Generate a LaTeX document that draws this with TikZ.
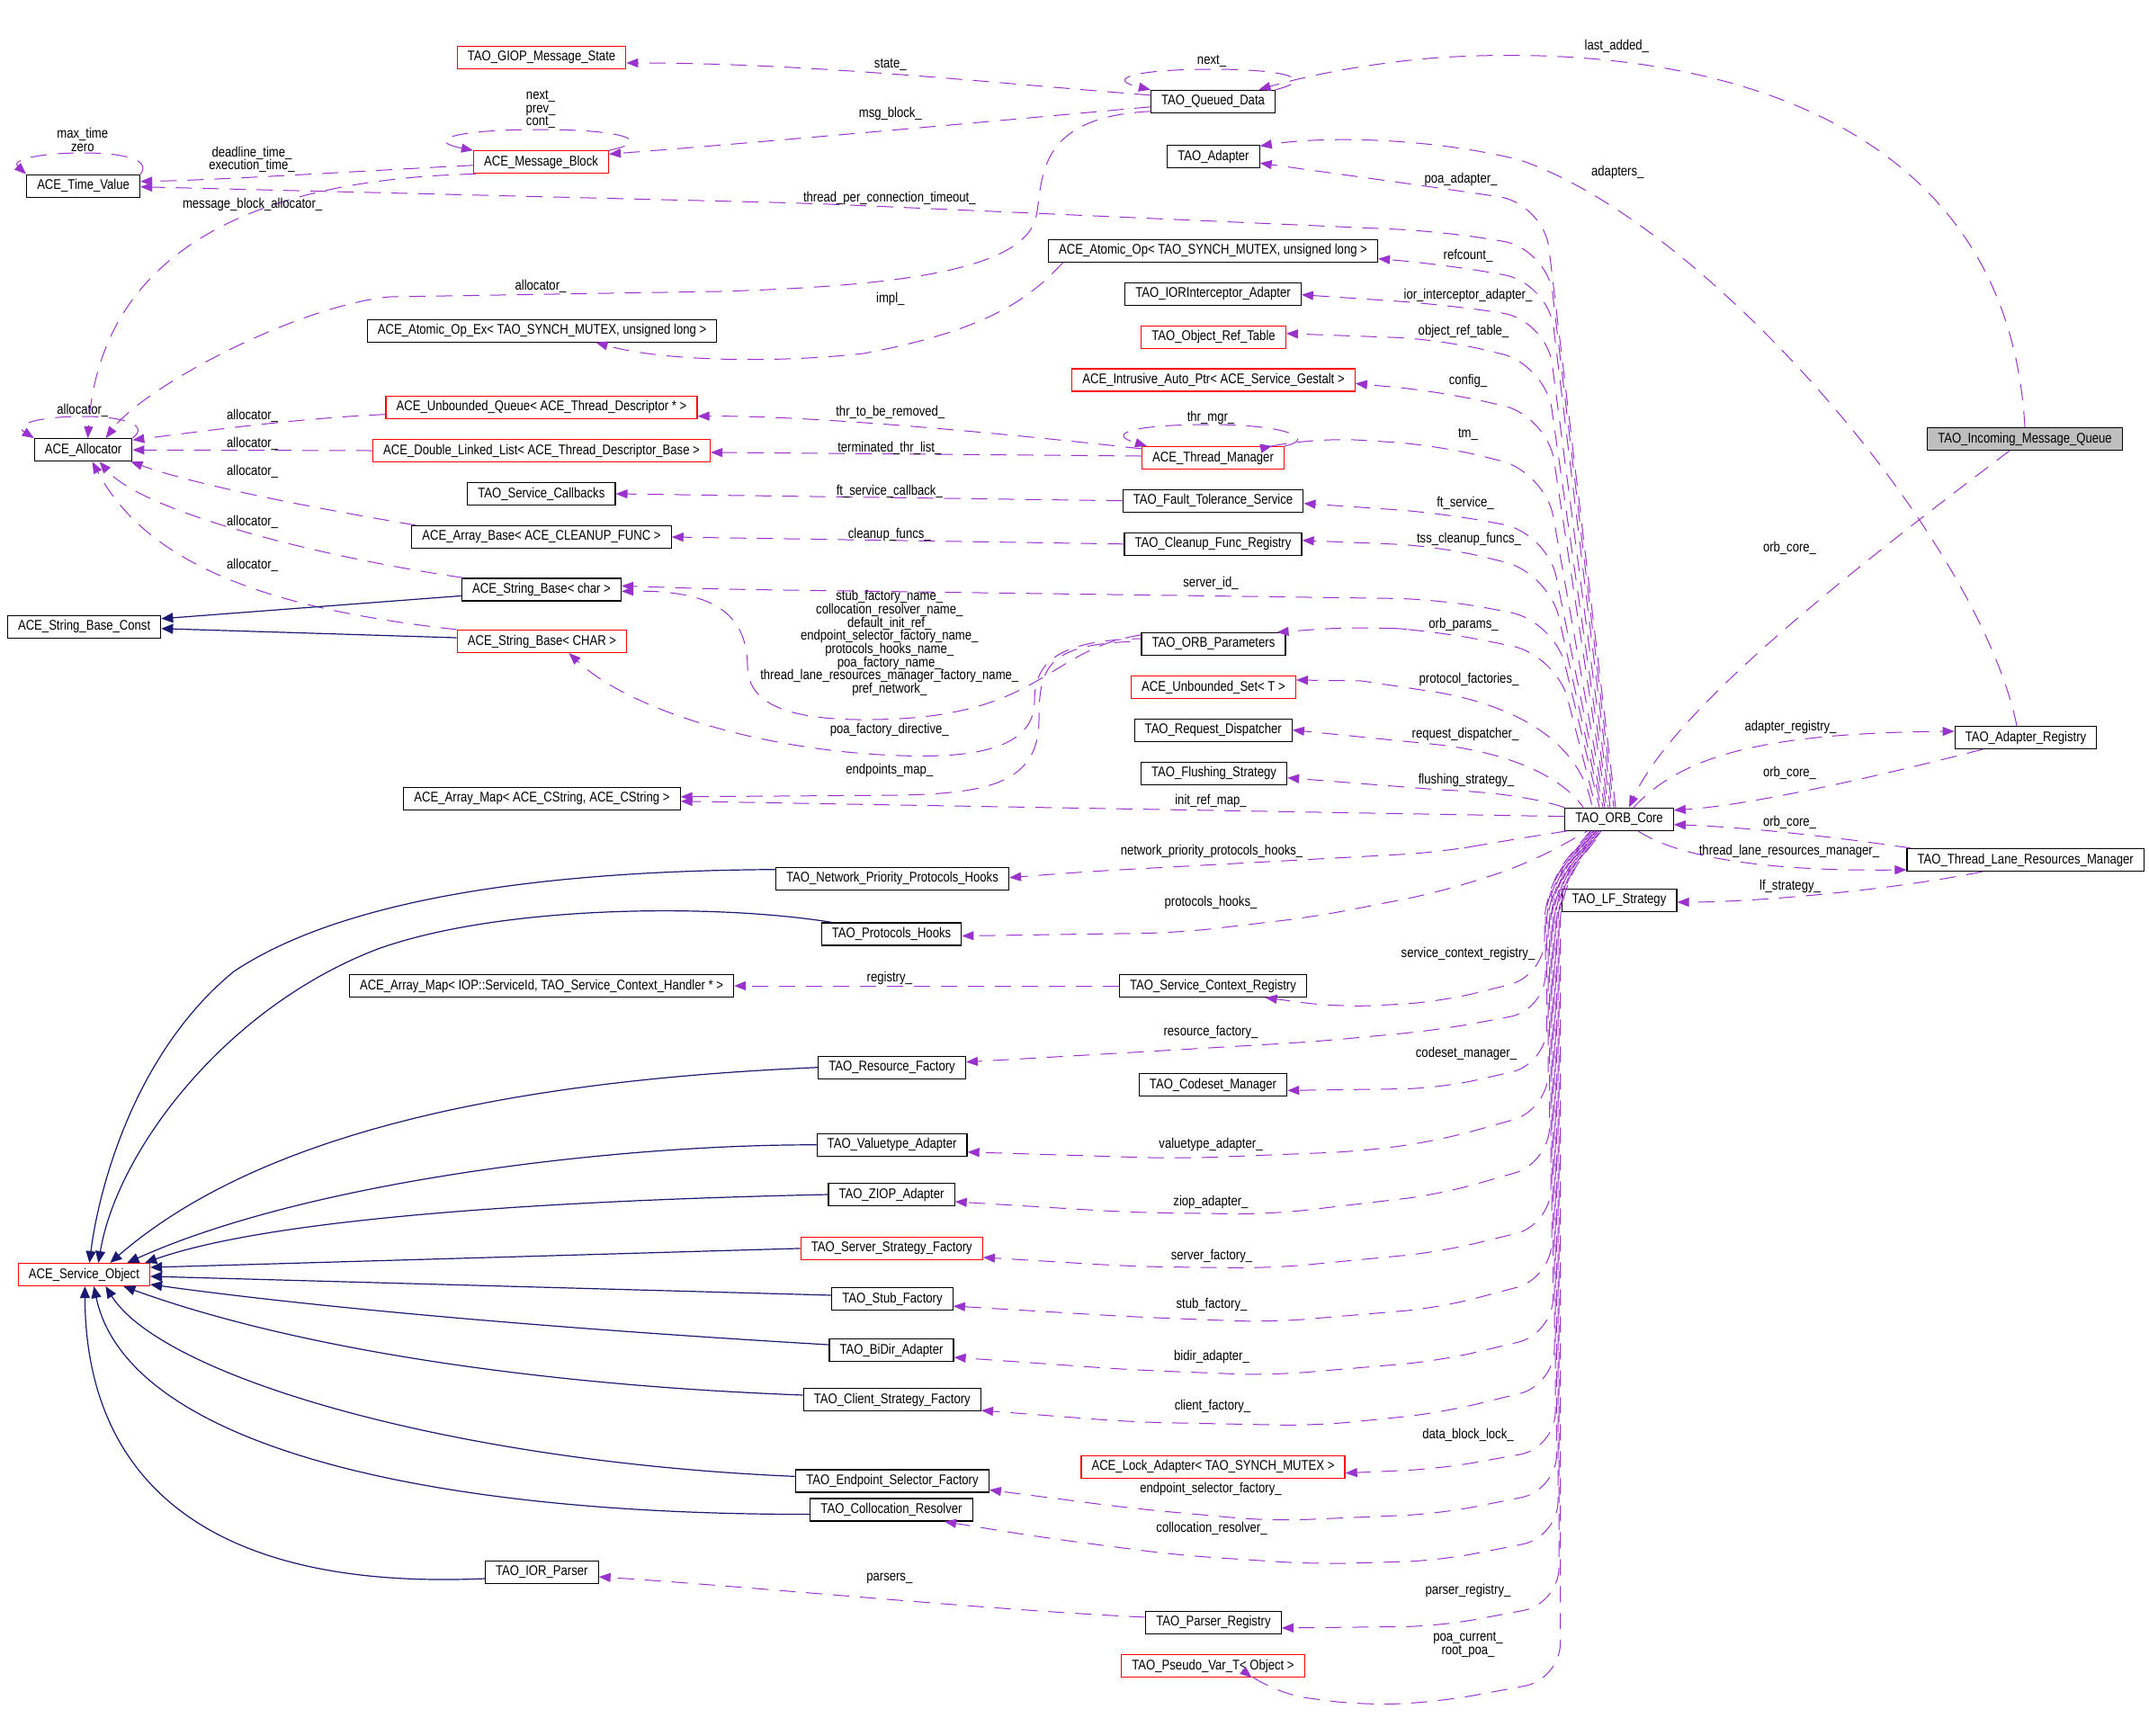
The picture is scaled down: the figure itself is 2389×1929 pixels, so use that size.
\documentclass[tikz,border=0pt]{standalone}
\usepackage{fontspec}
\setmainfont[FakeStretch=0.84]{Liberation Sans}
\usetikzlibrary{arrows.meta}

\definecolor{edgepurple}{HTML}{9A32CD}
\definecolor{inhblue}{HTML}{191970}
\definecolor{boxred}{HTML}{FF0000}
\definecolor{focusgray}{HTML}{BFBFBF}

\tikzset{
  cls/.style={draw=black, line width=0.6pt, fill=white, minimum height=12.5pt, inner xsep=5.8pt, inner ysep=1pt, font=\fontsize{7.8}{9}\selectfont},
  clsred/.style={cls, draw=boxred},
  clsmain/.style={cls, fill=focusgray},
  dep/.style={draw=edgepurple, line width=0.5pt, dash pattern=on 9pt off 6pt, -{Triangle[length=6.5pt, width=5pt]}},
  inh/.style={draw=inhblue, line width=0.6pt, -{Triangle[length=6.5pt, width=5.5pt]}},
  lbl/.style={font=\fontsize{7.8}{7.35}\selectfont, align=center, inner sep=0pt}
}

\begin{document}
\begin{tikzpicture}[x=0.5pt, y=-0.5pt]
	\path[fill=white, use as bounding box] (0,0) rectangle (2389,1929);
	% Classes:
	\node[clsred] (giop) at (602,64) {TAO\_GIOP\_Message\_State};
	\node[cls] (qdata) at (1348.5,112.8) {TAO\_Queued\_Data};
	\node[cls] (adapter) at (1349,174.3) {TAO\_Adapter};
	\node[cls] (timeval) at (92.6,206.7) {ACE\_Time\_Value};
	\node[clsred] (msgblock) at (601.5,180.3) {ACE\_Message\_Block};
	\node[cls] (atomicex) at (602.5,367.7) {ACE\_Atomic\_Op\_Ex< TAO\_SYNCH\_MUTEX, unsigned long >};
	\node[cls] (atomicop) at (1348.5,278.6) {ACE\_Atomic\_Op< TAO\_SYNCH\_MUTEX, unsigned long >};
	\node[cls] (iorint) at (1348.5,326.7) {TAO\_IORInterceptor\_Adapter};
	\node[clsred] (objref) at (1349,374.8) {TAO\_Object\_Ref\_Table};
	\node[clsred] (intrusive) at (1349,422.4) {ACE\_Intrusive\_Auto\_Ptr< ACE\_Service\_Gestalt >};
	\node[clsmain] (incoming) at (2251,488) {TAO\_Incoming\_Message\_Queue};
	\node[clsred] (uqueue) at (602,452.7) {ACE\_Unbounded\_Queue< ACE\_Thread\_Descriptor * >};
	\node[cls] (alloc) at (92.6,500.2) {ACE\_Allocator};
	\node[clsred] (dllist) at (602,501) {ACE\_Double\_Linked\_List< ACE\_Thread\_Descriptor\_Base >};
	\node[clsred] (thrmgr) at (1348.5,509) {ACE\_Thread\_Manager};
	\node[cls] (svccb) at (601.8,549) {TAO\_Service\_Callbacks};
	\node[cls] (ftsvc) at (1348.5,556.7) {TAO\_Fault\_Tolerance\_Service};
	\node[cls] (arraybase) at (602,597) {ACE\_Array\_Base< ACE\_CLEANUP\_FUNC >};
	\node[cls] (cleanup) at (1348.5,604.8) {TAO\_Cleanup\_Func\_Registry};
	\node[cls] (strchar) at (602,655.4) {ACE\_String\_Base< char >};
	\node[cls] (strconst) at (93.6,696.8) {ACE\_String\_Base\_Const};
	\node[clsred] (strCHAR) at (602.5,713) {ACE\_String\_Base< CHAR >};
	\node[cls] (orbparams) at (1349,716) {TAO\_ORB\_Parameters};
	\node[clsred] (uset) at (1349,764) {ACE\_Unbounded\_Set< T >};
	\node[cls] (reqdisp) at (1348.7,811.6) {TAO\_Request\_Dispatcher};
	\node[cls] (adreg) at (2252,820) {TAO\_Adapter\_Registry};
	\node[cls] (flush) at (1349.5,859.7) {TAO\_Flushing\_Strategy};
	\node[cls] (amapcs) at (602.5,887.8) {ACE\_Array\_Map< ACE\_CString, ACE\_CString >};
	\node[cls] (orbcore) at (1800,910.7) {TAO\_ORB\_Core};
	\node[cls] (tlrm) at (2251.7,956) {TAO\_Thread\_Lane\_Resources\_Manager};
	\node[cls] (npph) at (992,976.7) {TAO\_Network\_Priority\_Protocols\_Hooks};
	\node[cls] (lfstrat) at (1800,1001) {TAO\_LF\_Strategy};
	\node[cls] (phooks) at (991,1038.5) {TAO\_Protocols\_Hooks};
	\node[cls] (amapiop) at (602,1096) {ACE\_Array\_Map< IOP::ServiceId, TAO\_Service\_Context\_Handler * >};
	\node[cls] (scr) at (1348.5,1096) {TAO\_Service\_Context\_Registry};
	\node[cls] (resfac) at (991.6,1186.7) {TAO\_Resource\_Factory};
	\node[cls] (codeset) at (1348.5,1206.3) {TAO\_Codeset\_Manager};
	\node[cls] (valadapt) at (991.6,1272.8) {TAO\_Valuetype\_Adapter};
	\node[cls] (ziop) at (991,1328) {TAO\_ZIOP\_Adapter};
	\node[clsred] (ssf) at (991.3,1387.9) {TAO\_Server\_Strategy\_Factory};
	\node[clsred] (svcobj) at (93.4,1417) {ACE\_Service\_Object};
	\node[cls] (stubfac) at (992,1444) {TAO\_Stub\_Factory};
	\node[cls] (bidir) at (991,1501) {TAO\_BiDir\_Adapter};
	\node[cls] (csf) at (991.8,1556) {TAO\_Client\_Strategy\_Factory};
	\node[clsred] (lockad) at (1348.5,1630.7) {ACE\_Lock\_Adapter< TAO\_SYNCH\_MUTEX >};
	\node[cls] (esf) at (992,1646.4) {TAO\_Endpoint\_Selector\_Factory};
	\node[cls] (colres) at (991,1678.5) {TAO\_Collocation\_Resolver};
	\node[cls] (iorparser) at (602.3,1748) {TAO\_IOR\_Parser};
	\node[cls] (parsreg) at (1349,1803.9) {TAO\_Parser\_Registry};
	\node[clsred] (pseudovar) at (1348.5,1852) {TAO\_Pseudo\_Var\_T< Object >};

	% Usage edges, left part:
	\draw[dep] ([shift={(0,-7)}]qdata.west) .. controls (1100,92) and (900,70) .. ([shift={(0,6)}]giop.east);
	\draw[dep] (qdata.north east) .. controls (1465,88) and (1430,77) .. (1348,77) .. controls (1260,77) and (1228,88) .. (qdata.north west);
	\draw[dep] ([shift={(0,6)}]qdata.west) .. controls (1100,135) and (850,158) .. ([shift={(0,-9)}]msgblock.east);
	\draw[dep] ([shift={(0,11)}]qdata.west) .. controls (1150,130) and (1160,200) .. (1152,240) .. controls (1140,300) and (1000,318) .. (800,324) -- (433,330) .. controls (330,340) and (160,430) .. ([shift={(25,0)}]alloc.north);
	\draw[dep] (msgblock.north east) .. controls (730,156) and (690,144) .. (601,144) .. controls (505,144) and (470,156) .. (msgblock.north west);
	\draw[dep] ([shift={(0,3.5)}]msgblock.west) .. controls (400,190) and (250,200) .. ([shift={(0,-5)}]timeval.east);
	\draw[dep] ([shift={(3,0)}]msgblock.south west) .. controls (250,200) and (110,300) .. ([shift={(5,0)}]alloc.north);
	\draw[dep] (timeval.north east) .. controls (168,178) and (140,170) .. (92,170) .. controls (42,170) and (12,178) .. (timeval.north west);
	\draw[dep] (alloc.north east) .. controls (166,473) and (140,463) .. (92,463) .. controls (42,463) and (14,472) .. (alloc.north west);
	\draw[dep] ([shift={(17,0)}]atomicop.south west) .. controls (1150,325) and (1110,365) .. (960,393) .. controls (850,405) and (730,400) .. ([shift={(60,0)}]atomicex.south);
	\draw[dep] ([shift={(0,3)}]thrmgr.north west) .. controls (1100,480) and (900,462) .. ([shift={(0,10)}]uqueue.east);
	\draw[dep] (thrmgr.north east) .. controls (1465,488) and (1430,472) .. (1346,472) .. controls (1260,472) and (1228,482) .. ([shift={(6,0)}]thrmgr.north west);
	\draw[dep] ([shift={(0,-2)}]thrmgr.west) -- ([shift={(0,2)}]dllist.east);
	\draw[dep] (ftsvc.west) -- (svccb.east);
	\draw[dep] (cleanup.west) -- (arraybase.east);
	\draw[dep] ([shift={(0,8)}]uqueue.west) .. controls (330,465) and (220,480) .. ([shift={(0,-11)}]alloc.east);
	\draw[dep] (dllist.west) -- (alloc.east);
	\draw[dep] ([shift={(5,0)}]arraybase.north west) .. controls (350,565) and (220,540) .. ([shift={(-2,0)}]alloc.south east);
	\draw[dep] ([shift={(2,0)}]strchar.north west) .. controls (360,620) and (160,570) .. ([shift={(18,0)}]alloc.south);
	\draw[dep] (strCHAR.north west) .. controls (330,680) and (170,640) .. ([shift={(10,0)}]alloc.south);
	\draw[dep] ([shift={(0,-10)}]orbparams.west) .. controls (1170,720) and (1160,790) .. (1000,799) .. controls (880,805) and (831,785) .. (831,740) .. controls (830,680) and (790,656) .. ([shift={(0,2)}]strchar.east);
	\draw[dep, dash phase=4pt] ([shift={(0,-6)}]orbparams.west) .. controls (1170,712) and (1150,740) .. (1150,780) .. controls (1150,840) and (1060,842) .. (1000,840) .. controls (850,835) and (700,790) .. ([shift={(30,0)}]strCHAR.south);
	\draw[dep, dash phase=9pt] ([shift={(0,-3)}]orbparams.west) .. controls (1165,715) and (1155,740) .. (1155,800) .. controls (1155,870) and (1100,882) .. (1000,884) -- ([shift={(0,-2)}]amapcs.east);
	\draw[dep] (scr.west) -- (amapiop.east);
	\draw[dep] ([shift={(0,-6)}]parsreg.west) .. controls (1100,1790) and (850,1765) .. ([shift={(0,5)}]iorparser.east);

	% Usage edges, right part:
	\draw[dep] (incoming.north) .. controls (2232,130) and (1900,45) .. (1600,64) .. controls (1520,70) and (1450,85) .. ([shift={(51,0)}]qdata.north);
	\draw[dep] ([shift={(-17,0)}]incoming.south) .. controls (2050,640) and (1860,790) .. ([shift={(11,0)}]orbcore.north);
	\draw[dep] ([shift={(-10,0)}]adreg.north) .. controls (2200,600) and (1900,250) .. (1690,178) .. controls (1600,155) and (1480,150) .. ([shift={(0,-12)}]adapter.east);
	\draw[dep] ([shift={(16,0)}]orbcore.north) .. controls (1870,840) and (1960,815) .. ([shift={(0,-7)}]adreg.west);
	\draw[dep] ([shift={(-48,0)}]adreg.south) .. controls (2100,860) and (1950,895) .. ([shift={(0,-10)}]orbcore.east);
	\draw[dep] ([shift={(5,0)}]tlrm.north west) .. controls (2050,932) and (1950,920) .. ([shift={(0,6)}]orbcore.east);
	\draw[dep] ([shift={(21,0)}]orbcore.south) .. controls (1860,950) and (1950,969) .. ([shift={(0,11)}]tlrm.west);
	\draw[dep] ([shift={(-48,0)}]tlrm.south) .. controls (2100,990) and (1950,1003) .. ([shift={(0,2)}]lfstrat.east);

	% ORB core, upwards:
	\draw[dep, dash phase=0pt, rounded corners=25pt] ([shift={(-4,0)}]orbcore.north) -- (1716,226) -- (1600,209) -- ([shift={(0,7)}]adapter.east);
	\draw[dep, dash phase=5pt, rounded corners=25pt] ([shift={(-6,0)}]orbcore.north) -- (1720,276) -- (1600,257) -- (900,226) -- ([shift={(0,1)}]timeval.east);
	\draw[dep, dash phase=10pt, rounded corners=25pt] ([shift={(-8,0)}]orbcore.north) -- (1721,314) -- (1605,294) -- ([shift={(0,9)}]atomicop.east);
	\draw[dep, dash phase=2.5pt, rounded corners=25pt] ([shift={(-10,0)}]orbcore.north) -- (1719,355) -- (1600,338) -- ([shift={(0,1)}]iorint.east);
	\draw[dep, dash phase=7.5pt, rounded corners=25pt] ([shift={(-12,0)}]orbcore.north) -- (1718,405) -- (1600,377) -- ([shift={(0,-4)}]objref.east);
	\draw[dep, dash phase=12.5pt, rounded corners=25pt] ([shift={(-14,0)}]orbcore.north) -- (1720,462) -- (1600,435) -- ([shift={(0,4)}]intrusive.east);
	\draw[dep, dash phase=1pt, rounded corners=25pt] ([shift={(-16,0)}]orbcore.north) -- (1718,525) -- (1600,495) -- (1460,486) -- ([shift={(-14,0)}]thrmgr.north east);
	\draw[dep, dash phase=6pt, rounded corners=25pt] ([shift={(-18,0)}]orbcore.north) -- (1720,592) -- (1600,570) -- ([shift={(0,3)}]ftsvc.east);
	\draw[dep, dash phase=11pt, rounded corners=25pt] ([shift={(-20,0)}]orbcore.north) -- (1722,637) -- (1600,607) -- ([shift={(0,-4)}]cleanup.east);
	\draw[dep, dash phase=3.5pt, rounded corners=25pt] ([shift={(-22,0)}]orbcore.north) -- (1728,690) -- (1600,666) -- (800,655) -- ([shift={(0,-4)}]strchar.east);
	\draw[dep, dash phase=8.5pt, rounded corners=25pt] ([shift={(-26,0)}]orbcore.north) -- (1730,728) -- (1600,702) -- (1514,696) -- ([shift={(-10,0)}]orbparams.north east);
	\draw[dep, dash phase=13.5pt] ([shift={(-30,0)}]orbcore.north) .. controls (1760,840) and (1710,790) .. (1600,770) -- (1514,757) -- ([shift={(0,-8)}]uset.east);
	\draw[dep, dash phase=4pt] ([shift={(-40,0)}]orbcore.north) .. controls (1745,875) and (1700,840) .. (1600,828) -- (reqdisp.east);
	\draw[dep] (orbcore.north west) .. controls (1700,885) and (1650,880) .. (1600,878) -- ([shift={(0,5)}]flush.east);
	\draw[dep] ([shift={(0,-3)}]orbcore.west) -- ([shift={(0,3)}]amapcs.east);

	% ORB core, downwards:
	\draw[dep, rounded corners=20pt] ([shift={(3,0)}]orbcore.south west) -- (1665,936) -- (1600,947.6) -- (1208,969) -- ([shift={(0,-1)}]npph.east);
	\draw[dep, dash phase=7pt, rounded corners=20pt] ([shift={(-35,0)}]orbcore.south) -- (1700,960) -- (1600,992) -- (1463,1019) -- (1310,1037) -- ([shift={(0,2)}]phooks.east);
	\draw[dep, dash phase=0pt, rounded corners=20pt] ([shift={(-32,0)}]orbcore.south) -- (1717,985) -- (1717,1085) -- (1600,1114) -- (1489,1120) -- ([shift={(58,0)}]scr.south);
	\draw[dep, dash phase=5pt, rounded corners=20pt] ([shift={(-31,0)}]orbcore.south) -- (1718,985) -- (1718,1123) -- (1600,1145) -- (1463,1158) -- (1259,1170) -- ([shift={(0,-6)}]resfac.east);
	\draw[dep, dash phase=10pt, rounded corners=20pt] ([shift={(-30,0)}]orbcore.south) -- (1719.5,985) -- (1719.5,1183) -- (1600,1210) -- ([shift={(0,6)}]codeset.east);
	\draw[dep, dash phase=2.5pt, rounded corners=20pt] ([shift={(-29,0)}]orbcore.south) -- (1721,985) -- (1721,1234) -- (1600,1268) -- (1514,1280) -- (1310,1288) -- ([shift={(0,8)}]valadapt.east);
	\draw[dep, dash phase=7.5pt, rounded corners=20pt] ([shift={(-28,0)}]orbcore.south) -- (1722.5,985) -- (1722.5,1293) -- (1600,1328) -- (1412,1350) -- (1259,1348) -- ([shift={(0,8)}]ziop.east);
	\draw[dep, dash phase=12.5pt, rounded corners=20pt] ([shift={(-27,0)}]orbcore.south) -- (1724,985) -- (1724,1362) -- (1600,1392) -- (1412,1410) -- (1259,1408) -- ([shift={(0,10)}]ssf.east);
	\draw[dep, dash phase=1pt, rounded corners=20pt] ([shift={(-26,0)}]orbcore.south) -- (1725,985) -- (1725,1421) -- (1600,1454) -- (1412,1470) -- (1259,1464) -- ([shift={(0,8)}]stubfac.east);
	\draw[dep, dash phase=6pt, rounded corners=20pt] ([shift={(-25,0)}]orbcore.south) -- (1726.5,985) -- (1726.5,1483) -- (1600,1513) -- (1412,1529) -- (1259,1523) -- ([shift={(0,8)}]bidir.east);
	\draw[dep, dash phase=11pt, rounded corners=20pt] ([shift={(-24,0)}]orbcore.south) -- (1728,985) -- (1728,1540) -- (1600,1571) -- (1463,1585) -- (1259,1581) -- ([shift={(0,12)}]csf.east);
	\draw[dep, dash phase=3.5pt, rounded corners=20pt] ([shift={(-23,0)}]orbcore.south) -- (1729,985) -- (1729,1610) -- (1600,1633) -- ([shift={(0,7)}]lockad.east);
	\draw[dep, dash phase=8.5pt, rounded corners=20pt] ([shift={(-22,0)}]orbcore.south) -- (1730.5,985) -- (1730.5,1657) -- (1600,1683) -- (1412,1691) -- (1259,1677) -- ([shift={(0,10)}]esf.east);
	\draw[dep, dash phase=13.5pt, rounded corners=20pt] ([shift={(-21,0)}]orbcore.south) -- (1732,985) -- (1732,1709) -- (1600,1735) -- (1463,1739) -- (1310,1729) -- (1157,1709) -- ([shift={(59,0)}]colres.south);
	\draw[dep, dash phase=4pt, rounded corners=20pt] ([shift={(-20,0)}]orbcore.south) -- (1733,985) -- (1733,1783) -- (1600,1808) -- ([shift={(0,6)}]parsreg.east);
	\draw[dep, dash phase=9pt, rounded corners=20pt] ([shift={(-19,0)}]orbcore.south) -- (1734.5,985) -- (1734.5,1867) -- (1600,1892) -- (1514,1896) -- (1412,1882) -- ([shift={(43,0)}]pseudovar.south);

	% Inheritance:
	\draw[inh] ([shift={(0,7)}]strchar.west) -- ([shift={(0,-9)}]strconst.east);
	\draw[inh] ([shift={(0,-4)}]strCHAR.west) -- ([shift={(0,2)}]strconst.east);
	\draw[inh] ([shift={(0,-10)}]npph.west) .. controls (600,968) and (380,1000) .. (260,1080) .. controls (150,1170) and (110,1320) .. ([shift={(6,0)}]svcobj.north);
	\draw[inh] ([shift={(12,0)}]phooks.north west) .. controls (800,1005) and (560,1005) .. (420,1055) .. controls (250,1120) and (130,1280) .. ([shift={(16,0)}]svcobj.north);
	\draw[inh] (resfac.west) .. controls (600,1200) and (300,1250) .. ([shift={(29,0)}]svcobj.north);
	\draw[inh] (valadapt.west) .. controls (700,1272) and (350,1310) .. ([shift={(48,0)}]svcobj.north);
	\draw[inh] (ziop.west) .. controls (600,1335) and (300,1355) .. ([shift={(-6,0)}]svcobj.north east);
	\draw[inh] (ssf.west) -- ([shift={(0,-8)}]svcobj.east);
	\draw[inh] ([shift={(0,-4)}]stubfac.west) -- ([shift={(0,2)}]svcobj.east);
	\draw[inh] ([shift={(0,-6)}]bidir.west) .. controls (700,1482) and (400,1460) .. ([shift={(0,11)}]svcobj.east);
	\draw[inh] ([shift={(0,-5)}]csf.west) .. controls (600,1540) and (330,1500) .. ([shift={(44,0)}]svcobj.south);
	\draw[inh] ([shift={(0,-5)}]esf.west) .. controls (500,1625) and (180,1530) .. ([shift={(24,0)}]svcobj.south);
	\draw[inh] ([shift={(0,5)}]colres.west) .. controls (450,1684) and (140,1600) .. ([shift={(11,0)}]svcobj.south);
	\draw[inh] ([shift={(0,7)}]iorparser.west) .. controls (200,1770) and (95,1620) .. ([shift={(1,0)}]svcobj.south);

	% Edge labels:
	\node[lbl] (lab-state) at (989.8,72.5) {state\_};
	\node[lbl] (lab-next) at (1347,68.4) {next\_};
	\node[lbl] (lab-msgblock) at (989.8,126.4) {msg\_block\_};
	\node[lbl] (lab-lastadded) at (1797.3,51.8) {last\_added\_};
	\node[lbl] (lab-mbloop) at (601,121.5) {next\_\\prev\_\\cont\_};
	\node[lbl] (lab-tvloop) at (91.8,155.3) {max\_time\\zero};
	\node[lbl] (lab-deadline) at (280,177.5) {deadline\_time\_\\execution\_time\_};
	\node[lbl] (lab-mballoc) at (280.6,227.6) {message\_block\_allocator\_};
	\node[lbl] (lab-tpct) at (988.8,220.5) {thread\_per\_connection\_timeout\_};
	\node[lbl] (lab-poaadapter) at (1624,199) {poa\_adapter\_};
	\node[lbl] (lab-adapters) at (1798.3,191.5) {adapters\_};
	\node[lbl] (lab-refcount) at (1632,284) {refcount\_};
	\node[lbl] (lab-qdalloc) at (601,318.8) {allocator\_};
	\node[lbl] (lab-impl) at (989.8,332.5) {impl\_};
	\node[lbl] (lab-iorint) at (1632,328) {ior\_interceptor\_adapter\_};
	\node[lbl] (lab-objref) at (1627,368.5) {object\_ref\_table\_};
	\node[lbl] (lab-config) at (1632,423.7) {config\_};
	\node[lbl] (lab-allocloop) at (91.8,456) {allocator\_};
	\node[lbl] (lab-uqalloc) at (280.6,462.6) {allocator\_};
	\node[lbl] (lab-thrtbr) at (989.8,458.5) {thr\_to\_be\_removed\_};
	\node[lbl] (lab-thrmgr) at (1346,464.3) {thr\_mgr\_};
	\node[lbl] (lab-tm) at (1632,483.4) {tm\_};
	\node[lbl] (lab-dlalloc) at (280.6,492.9) {allocator\_};
	\node[lbl] (lab-termthr) at (988.8,498.3) {terminated\_thr\_list\_};
	\node[lbl] (lab-aballoc) at (280.6,524.4) {allocator\_};
	\node[lbl] (lab-ftcb) at (988.8,546.4) {ft\_service\_callback\_};
	\node[lbl] (lab-ftsvc) at (1629,559.6) {ft\_service\_};
	\node[lbl] (lab-scalloc) at (280.6,580.4) {allocator\_};
	\node[lbl] (lab-cleanup) at (988.8,594.5) {cleanup\_funcs\_};
	\node[lbl] (lab-tss) at (1633,599.4) {tss\_cleanup\_funcs\_};
	\node[lbl] (lab-orbcore1) at (1989.5,609) {orb\_core\_};
	\node[lbl] (lab-sCalloc) at (280.6,628.5) {allocator\_};
	\node[lbl] (lab-serverid) at (1346,648.8) {server\_id\_};
	\node[lbl] (lab-names) at (988.8,715.1) {stub\_factory\_name\_\\collocation\_resolver\_name\_\\default\_init\_ref\_\\endpoint\_selector\_factory\_name\_\\protocols\_hooks\_name\_\\poa\_factory\_name\_\\thread\_lane\_resources\_manager\_factory\_name\_\\pref\_network\_};
	\node[lbl] (lab-orbparams) at (1627,694.8) {orb\_params\_};
	\node[lbl] (lab-protfac) at (1633,755.7) {protocol\_factories\_};
	\node[lbl] (lab-poadir) at (988.8,811.7) {poa\_factory\_directive\_};
	\node[lbl] (lab-reqdisp) at (1629,816.6) {request\_dispatcher\_};
	\node[lbl] (lab-adreg) at (1990.5,808.8) {adapter\_registry\_};
	\node[lbl] (lab-epmap) at (988.8,856) {endpoints\_map\_};
	\node[lbl] (lab-orbcore2) at (1989.5,859) {orb\_core\_};
	\node[lbl] (lab-flush) at (1630,867.6) {flushing\_strategy\_};
	\node[lbl] (lab-initref) at (1346,890.4) {init\_ref\_map\_};
	\node[lbl] (lab-orbcore3) at (1989.5,914.5) {orb\_core\_};
	\node[lbl] (lab-tlrm) at (1989,946.8) {thread\_lane\_resources\_manager\_};
	\node[lbl] (lab-npph) at (1347,946.8) {network\_priority\_protocols\_hooks\_};
	\node[lbl] (lab-lf) at (1990,985) {lf\_strategy\_};
	\node[lbl] (lab-phooks) at (1346,1003.6) {protocols\_hooks\_};
	\node[lbl] (lab-scr) at (1632,1060.4) {service\_context\_registry\_};
	\node[lbl] (lab-registry) at (988.8,1087.8) {registry\_};
	\node[lbl] (lab-resfac) at (1346,1147.5) {resource\_factory\_};
	\node[lbl] (lab-codeset) at (1630,1171.5) {codeset\_manager\_};
	\node[lbl] (lab-valadapt) at (1346,1272.6) {valuetype\_adapter\_};
	\node[lbl] (lab-ziop) at (1346,1336.9) {ziop\_adapter\_};
	\node[lbl] (lab-ssf) at (1347,1396.7) {server\_factory\_};
	\node[lbl] (lab-stub) at (1347,1450.8) {stub\_factory\_};
	\node[lbl] (lab-bidir) at (1347,1508.6) {bidir\_adapter\_};
	\node[lbl] (lab-csf) at (1348,1563.6) {client\_factory\_};
	\node[lbl] (lab-lock) at (1632,1595) {data\_block\_lock\_};
	\node[lbl] (lab-esf) at (1346,1655.8) {endpoint\_selector\_factory\_};
	\node[lbl] (lab-colres) at (1347,1699.6) {collocation\_resolver\_};
	\node[lbl] (lab-parsers) at (988.8,1754.5) {parsers\_};
	\node[lbl] (lab-parsreg) at (1632,1768) {parser\_registry\_};
	\node[lbl] (lab-poacur) at (1632,1828.5) {poa\_current\_\\root\_poa\_};
\end{tikzpicture}
\end{document}
